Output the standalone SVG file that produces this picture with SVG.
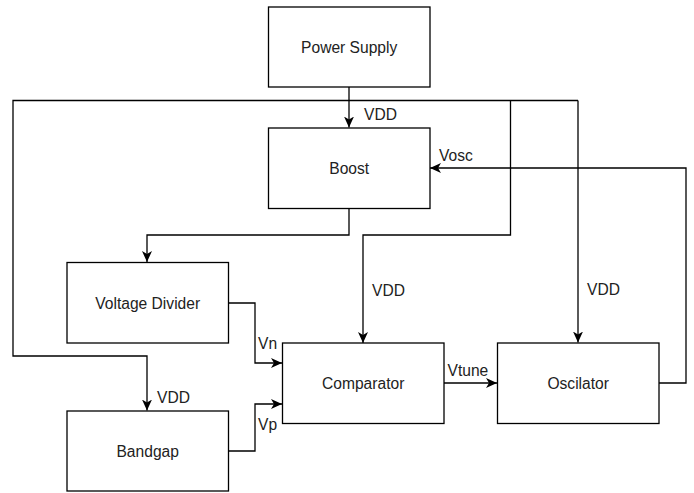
<svg xmlns="http://www.w3.org/2000/svg" width="694" height="493" viewBox="0 0 694 493">
<style>
  .box{fill:#fff;stroke:#000;stroke-width:1.3}
  .edge{fill:none;stroke:#000;stroke-width:1.3}
  .t{font-family:"Liberation Sans",Arial,Helvetica,sans-serif;font-size:15.6px;fill:#222;text-anchor:middle;dominant-baseline:central}
  .l{font-family:"Liberation Sans",Arial,Helvetica,sans-serif;font-size:15.6px;fill:#222}
</style>
<defs>
  <marker id="arr" markerUnits="userSpaceOnUse" markerWidth="11" markerHeight="10" viewBox="0 0 11 10" refX="11" refY="5" orient="auto">
    <path d="M0,0 L11,5 L0,10 L3,5 Z" fill="#000"/>
  </marker>
</defs>
<rect width="694" height="493" fill="#fff"/>
<g id="connectors">
  <path class="edge" d="M349,87 V127.5" marker-end="url(#arr)"/>
  <path class="edge" d="M578,100.5 H13 V356 H147 V410.5" marker-end="url(#arr)"/>
  <path class="edge" d="M510.5,100.5 V235 H363 V343" marker-end="url(#arr)"/>
  <path class="edge" d="M578,100.5 V342.5" marker-end="url(#arr)"/>
  <path class="edge" d="M349,208.5 V235 H147 V262" marker-end="url(#arr)"/>
  <path class="edge" d="M659,383 H686 V168 H430" marker-end="url(#arr)"/>
  <path class="edge" d="M228.5,303 H255 V363 H282" marker-end="url(#arr)"/>
  <path class="edge" d="M228.5,451 H255 V404 H282" marker-end="url(#arr)"/>
  <path class="edge" d="M444,383 H497" marker-end="url(#arr)"/>
  <text class="l" x="364" y="119.5">VDD</text>
  <text class="l" x="439" y="160.7">Vosc</text>
  <text class="l" x="372" y="295.7">VDD</text>
  <text class="l" x="587" y="295.2">VDD</text>
  <text class="l" x="258" y="349.3">Vn</text>
  <text class="l" x="258" y="430">Vp</text>
  <text class="l" x="447.5" y="376">Vtune</text>
  <text class="l" x="157" y="403.3">VDD</text>
</g>
<g id="power-supply">
  <rect class="box" x="268.5" y="7" width="161.5" height="80"/>
  <text class="t" x="349.2" y="47.5">Power Supply</text>
</g>
<g id="boost">
  <rect class="box" x="268.5" y="128" width="161.5" height="80.5"/>
  <text class="t" x="349.2" y="168">Boost</text>
</g>
<g id="voltage-divider">
  <rect class="box" x="67" y="262.5" width="161.5" height="80.5"/>
  <text class="t" x="147.7" y="303">Voltage Divider</text>
</g>
<g id="bandgap">
  <rect class="box" x="67" y="411" width="161.5" height="80"/>
  <text class="t" x="147.7" y="451">Bandgap</text>
</g>
<g id="comparator">
  <rect class="box" x="282.5" y="343" width="161.5" height="80.5"/>
  <text class="t" x="363.2" y="383">Comparator</text>
</g>
<g id="oscilator">
  <rect class="box" x="497.5" y="343" width="161.5" height="80.5"/>
  <text class="t" x="578.2" y="383">Oscilator</text>
</g>
</svg>
